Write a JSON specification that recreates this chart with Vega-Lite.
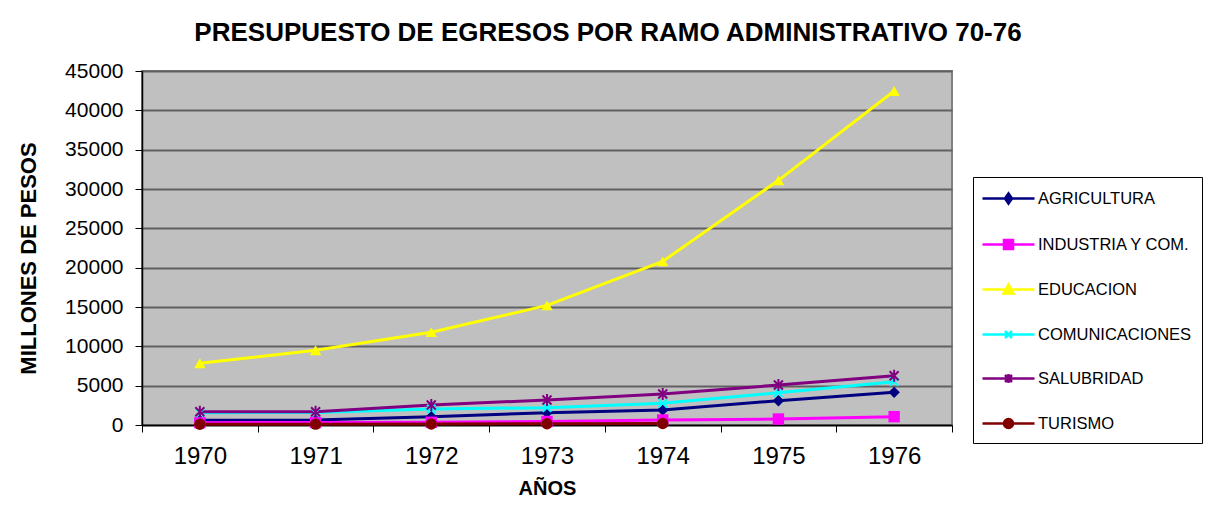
{
  "$schema": "https://vega.github.io/schema/vega-lite/v6.json",
  "width": 810,
  "height": 354,
  "autosize": {"type": "none"},
  "padding": {"left": 142, "top": 71, "right": 257, "bottom": 87},
  "background": "white",
  "title": {
    "text": "PRESUPUESTO DE EGRESOS POR RAMO ADMINISTRATIVO 70-76",
    "font": "Liberation Sans",
    "fontSize": 26,
    "fontWeight": "bold",
    "color": "black",
    "anchor": "middle",
    "dx": 61,
    "offset": 14
  },
  "data": {
    "values": [
      {"serie": "AGRICULTURA", "anio": "1970", "valor": 600},
      {"serie": "AGRICULTURA", "anio": "1971", "valor": 620},
      {"serie": "AGRICULTURA", "anio": "1972", "valor": 1060},
      {"serie": "AGRICULTURA", "anio": "1973", "valor": 1570},
      {"serie": "AGRICULTURA", "anio": "1974", "valor": 1900},
      {"serie": "AGRICULTURA", "anio": "1975", "valor": 3090},
      {"serie": "AGRICULTURA", "anio": "1976", "valor": 4150},
      {"serie": "INDUSTRIA Y COM.", "anio": "1970", "valor": 300},
      {"serie": "INDUSTRIA Y COM.", "anio": "1971", "valor": 320},
      {"serie": "INDUSTRIA Y COM.", "anio": "1972", "valor": 350},
      {"serie": "INDUSTRIA Y COM.", "anio": "1973", "valor": 450},
      {"serie": "INDUSTRIA Y COM.", "anio": "1974", "valor": 640},
      {"serie": "INDUSTRIA Y COM.", "anio": "1975", "valor": 760},
      {"serie": "INDUSTRIA Y COM.", "anio": "1976", "valor": 1060},
      {"serie": "EDUCACION", "anio": "1970", "valor": 7850},
      {"serie": "EDUCACION", "anio": "1971", "valor": 9500},
      {"serie": "EDUCACION", "anio": "1972", "valor": 11800},
      {"serie": "EDUCACION", "anio": "1973", "valor": 15200},
      {"serie": "EDUCACION", "anio": "1974", "valor": 20800},
      {"serie": "EDUCACION", "anio": "1975", "valor": 31100},
      {"serie": "EDUCACION", "anio": "1976", "valor": 42450},
      {"serie": "COMUNICACIONES", "anio": "1970", "valor": 1550},
      {"serie": "COMUNICACIONES", "anio": "1971", "valor": 1600},
      {"serie": "COMUNICACIONES", "anio": "1972", "valor": 2030},
      {"serie": "COMUNICACIONES", "anio": "1973", "valor": 2200},
      {"serie": "COMUNICACIONES", "anio": "1974", "valor": 2750},
      {"serie": "COMUNICACIONES", "anio": "1975", "valor": 4110},
      {"serie": "COMUNICACIONES", "anio": "1976", "valor": 5510},
      {"serie": "SALUBRIDAD", "anio": "1970", "valor": 1680},
      {"serie": "SALUBRIDAD", "anio": "1971", "valor": 1680},
      {"serie": "SALUBRIDAD", "anio": "1972", "valor": 2540},
      {"serie": "SALUBRIDAD", "anio": "1973", "valor": 3180},
      {"serie": "SALUBRIDAD", "anio": "1974", "valor": 3940},
      {"serie": "SALUBRIDAD", "anio": "1975", "valor": 5080},
      {"serie": "SALUBRIDAD", "anio": "1976", "valor": 6270},
      {"serie": "TURISMO", "anio": "1970", "valor": 100},
      {"serie": "TURISMO", "anio": "1971", "valor": 110},
      {"serie": "TURISMO", "anio": "1972", "valor": 130},
      {"serie": "TURISMO", "anio": "1973", "valor": 160},
      {"serie": "TURISMO", "anio": "1974", "valor": 200}
    ]
  },
  "encoding": {
    "x": {
      "field": "anio",
      "type": "ordinal",
      "bandPosition": 0.5,
      "scale": {"type": "band", "paddingInner": 0, "paddingOuter": 0},
      "axis": {
        "title": "AÑOS",
        "titleFont": "Liberation Sans",
        "titleFontSize": 20,
        "titleFontWeight": "bold",
        "titleColor": "black",
        "titlePadding": 10,
        "labelFont": "Liberation Sans",
        "labelFontSize": 24,
        "labelColor": "black",
        "labelAngle": 0,
        "labelPadding": 12,
        "tickBand": "extent",
        "tickSize": 7,
        "tickColor": "black",
        "tickWidth": 1,
        "domainColor": "black",
        "domainWidth": 1.5,
        "grid": false
      }
    },
    "y": {
      "field": "valor",
      "type": "quantitative",
      "scale": {"domain": [0, 45000], "nice": false},
      "axis": {
        "title": "MILLONES DE PESOS",
        "titleFont": "Liberation Sans",
        "titleFontSize": 22,
        "titleFontWeight": "bold",
        "titleColor": "black",
        "titlePadding": 24,
        "titleY": 187,
        "labelFont": "Liberation Sans",
        "labelFontSize": 21,
        "labelColor": "black",
        "labelPadding": 12,
        "values": [0, 5000, 10000, 15000, 20000, 25000, 30000, 35000, 40000, 45000],
        "format": "d",
        "tickSize": 7,
        "tickColor": "black",
        "domainColor": "black",
        "domainWidth": 1.5,
        "grid": true,
        "gridColor": "#606060",
        "gridWidth": 2
      }
    },
    "color": {
      "field": "serie",
      "type": "nominal",
      "sort": ["AGRICULTURA", "INDUSTRIA Y COM.", "EDUCACION", "COMUNICACIONES", "SALUBRIDAD", "TURISMO"],
      "scale": {
        "domain": ["AGRICULTURA", "INDUSTRIA Y COM.", "EDUCACION", "COMUNICACIONES", "SALUBRIDAD", "TURISMO"],
        "range": ["#000080", "#FF00FF", "#FFFF00", "#00FFFF", "#800080", "#800000"]
      },
      "legend": {
        "title": null,
        "orient": "none",
        "legendX": 831,
        "legendY": 106,
        "fillColor": "white",
        "strokeColor": "black",
        "padding": 10,
        "symbolSize": 400,
        "symbolOffset": 14,
        "labelOffset": 18,
        "rowPadding": 24,
        "labelFont": "Liberation Sans",
        "labelFontSize": 16.5,
        "labelColor": "black",
        "labelLimit": 300,
        "encode": {
          "symbols": {
            "update": {
              "shape": {"signal": "datum.value == 'AGRICULTURA' ? 'M-2.6,0H2.6M0,-0.5L0.35,0L0,0.5L-0.35,0Z' : datum.value == 'INDUSTRIA Y COM.' ? 'M-2.6,0H2.6M-0.45,-0.45H0.45V0.45H-0.45Z' : datum.value == 'EDUCACION' ? 'M-2.6,0H2.6M0,-0.5L0.5,0.4H-0.5Z' : datum.value == 'COMUNICACIONES' ? 'M-2.6,0H2.6M-0.35,-0.35L0.35,0.35M-0.35,0.35L0.35,-0.35' : datum.value == 'SALUBRIDAD' ? 'M-2.6,0H2.6M-0.35,-0.35L0.35,0.35M-0.35,0.35L0.35,-0.35M0,-0.45V0.45' : 'M-2.6,0H2.6M0.45,0A0.45,0.45 0 1 1 -0.45,0A0.45,0.45 0 1 1 0.45,0Z'"},
              "fill": {"signal": "scale('color', datum.value)"},
              "stroke": {"signal": "scale('color', datum.value)"},
              "strokeWidth": {"value": 2.5},
              "opacity": {"value": 1},
              "fillOpacity": {"value": 1}
            }
          }
        }
      }
    }
  },
  "layer": [
    {
      "mark": {"type": "line", "strokeWidth": 3}
    },
    {
      "transform": [{"filter": "datum.serie != 'COMUNICACIONES' && datum.serie != 'SALUBRIDAD'"}],
      "mark": {"type": "point", "filled": true, "opacity": 1, "size": 130},
      "encoding": {
        "shape": {
          "field": "serie",
          "type": "nominal",
          "scale": {
            "domain": ["AGRICULTURA", "INDUSTRIA Y COM.", "EDUCACION", "TURISMO"],
            "range": ["diamond", "square", "triangle-up", "circle"]
          },
          "legend": null
        }
      }
    },
    {
      "transform": [{"filter": "datum.serie == 'COMUNICACIONES' || datum.serie == 'SALUBRIDAD'"}],
      "mark": {"type": "point", "filled": false, "opacity": 1, "size": 144, "strokeWidth": 2},
      "encoding": {
        "shape": {
          "field": "serie",
          "type": "nominal",
          "scale": {
            "domain": ["COMUNICACIONES", "SALUBRIDAD"],
            "range": ["M-0.7,-0.7L0.7,0.7M-0.7,0.7L0.7,-0.7", "M-0.75,-0.75L0.75,0.75M-0.75,0.75L0.75,-0.75M0,-1V1"]
          },
          "legend": null
        }
      }
    }
  ],
  "resolve": {"scale": {"shape": "independent"}},
  "config": {
    "view": {"fill": "#C0C0C0", "stroke": "#808080", "strokeWidth": 2},
    "font": "Liberation Sans"
  }
}
